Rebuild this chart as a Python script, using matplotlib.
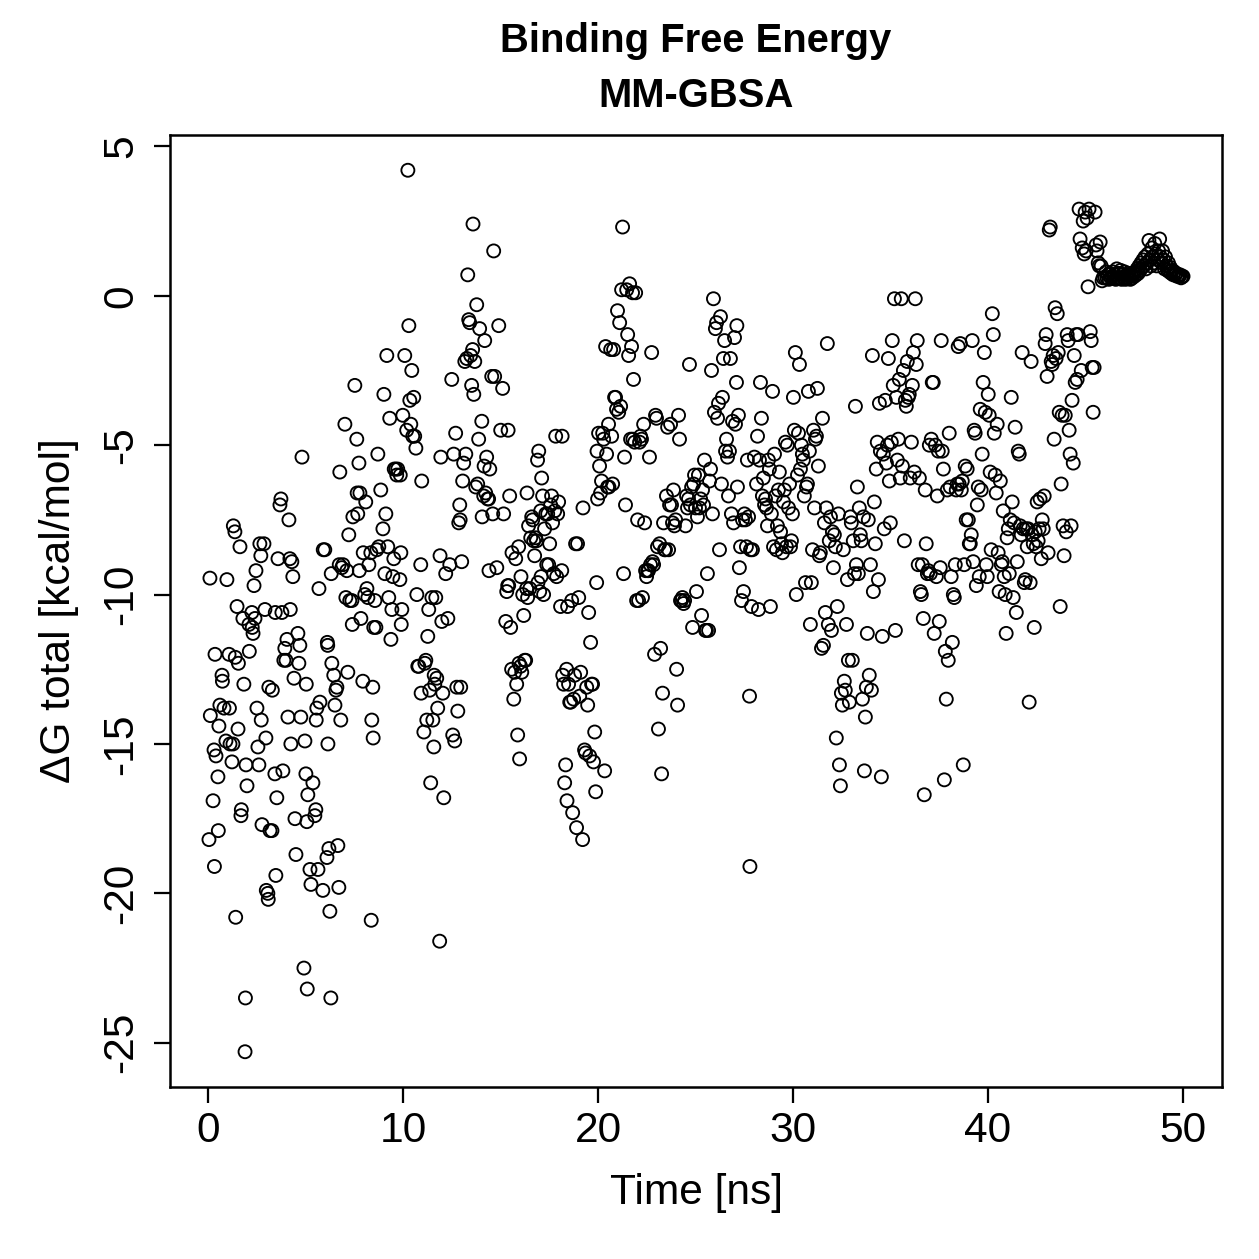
import matplotlib
matplotlib.use("Agg")
import matplotlib.pyplot as plt

plt.rcParams['font.family'] = ['Liberation Sans', 'DejaVu Sans']
plt.rcParams['axes.unicode_minus'] = False

# MM-GBSA binding free energy per frame
time_00_10 = [
    0.10, 0.12, 0.05, 0.26, 0.31, 0.33, 0.36, 0.41, 0.51, 0.53,
    0.61, 0.56, 0.72, 0.74, 0.82, 0.92, 0.97, 1.08, 1.10, 1.13,
    1.23, 1.28, 1.30, 1.38, 1.40, 1.42, 1.49, 1.54, 1.56, 1.64,
    1.69, 1.71, 1.79, 1.84, 1.90, 1.92, 1.95, 2.00, 2.10, 2.12,
    2.25, 2.27, 2.31, 2.36, 2.41, 2.46, 2.51, 2.56, 2.61, 2.66,
    2.71, 2.73, 2.77, 2.87, 2.92, 2.97, 2.99, 3.07, 3.09, 3.12,
    3.18, 3.28, 3.30, 3.43, 3.45, 3.53, 3.48, 3.59, 3.69, 3.74,
    3.79, 3.84, 3.89, 3.94, 4.00, 4.05, 4.10, 4.15, 4.20, 4.22,
    4.25, 4.30, 4.35, 4.41, 4.46, 4.51, 4.61, 4.66, 4.71, 4.76,
    4.82, 4.92, 4.97, 5.02, 5.04, 5.07, 5.09, 5.12, 5.23, 5.28,
    5.38, 5.48, 5.53, 5.55, 5.58, 5.64, 5.69, 5.74, 5.89, 5.91,
    5.99, 6.10, 6.12, 6.14, 6.15, 6.20, 6.25, 6.30, 6.32, 6.35,
    6.45, 6.51, 6.56, 6.61, 6.66, 6.71, 6.73, 6.76, 6.81, 6.86,
    6.92, 7.02, 7.07, 7.12, 7.17, 7.22, 7.27, 7.38, 7.40, 7.43,
    7.53, 7.63, 7.65, 7.68, 7.74, 7.76, 7.79, 7.84, 7.94, 7.96,
    8.04, 8.09, 8.15, 8.20, 8.25, 8.35, 8.37, 8.40, 8.45, 8.47,
    8.50, 8.56, 8.61, 8.66, 8.71, 8.76, 8.86, 8.97, 9.02, 9.07,
    9.12, 9.17, 9.22, 9.27, 9.32, 9.38, 9.43, 9.48, 9.53, 9.55,
    9.63, 9.68, 9.73, 9.84, 9.86, 9.89, 9.91, 9.94, 9.99,
]
dg_00_10 = [
    -9.45, -14.05, -18.2, -16.9, -15.2, -19.1, -12.0, -15.4, -16.1, -17.9,
    -13.7, -14.4, -12.7, -12.9, -13.8, -14.9, -9.5, -12.0, -13.8, -15.0,
    -15.6, -15.0, -7.7, -7.9, -12.1, -20.8, -10.4, -14.5, -12.3, -8.4,
    -17.4, -17.2, -10.8, -13.0, -25.3, -23.5, -15.7, -16.4, -11.0, -11.9,
    -10.6, -11.1, -11.3, -9.7, -10.8, -9.2, -13.8, -15.1, -15.7, -8.3,
    -8.7, -14.2, -17.7, -8.3, -10.5, -14.8, -19.9, -20.0, -20.2, -13.1,
    -17.9, -17.9, -13.2, -16.0, -10.6, -16.8, -19.4, -8.8, -7.0, -6.8,
    -10.6, -15.9, -12.2, -11.8, -12.2, -11.5, -14.1, -7.5, -8.8, -10.5,
    -15.0, -8.9, -9.4, -12.8, -17.5, -18.7, -11.3, -12.3, -11.7, -14.1,
    -5.4, -22.5, -14.9, -16.0, -13.0, -17.6, -23.2, -16.7, -19.2, -19.7,
    -16.3, -17.4, -17.2, -14.2, -13.8, -19.2, -9.8, -13.6, -19.9, -8.5,
    -8.5, -18.8, -11.6, -11.7, -15.0, -18.5, -20.6, -23.5, -9.3, -12.3,
    -12.7, -13.7, -13.2, -13.1, -18.4, -19.8, -9.0, -5.9, -14.2, -9.1,
    -9.0, -4.3, -10.1, -9.2, -12.6, -8.0, -10.2, -10.2, -11.0, -7.4,
    -3.0, -4.8, -6.6, -7.3, -5.6, -9.2, -6.6, -10.8, -12.9, -8.6,
    -10.0, -6.9, -9.8, -10.1, -9.0, -8.6, -20.9, -14.2, -13.1, -14.8,
    -11.1, -10.2, -11.1, -8.5, -5.3, -8.4, -6.5, -7.8, -3.3, -9.3,
    -7.3, -2.0, -8.4, -10.1, -4.1, -11.5, -10.5, -9.4, -8.8, -5.8,
    -5.8, -6.0, -5.8, -9.5, -6.0, -8.6, -11.0, -10.5, -4.0,
]

time_10_20 = [
    10.09, 10.19, 10.25, 10.30, 10.35, 10.40, 10.45, 10.50, 10.55, 10.60,
    10.66, 10.71, 10.76, 10.81, 10.91, 10.93, 10.96, 11.07, 11.12, 11.17,
    11.22, 11.27, 11.32, 11.37, 11.42, 11.48, 11.53, 11.58, 11.60, 11.63,
    11.68, 11.73, 11.78, 11.88, 11.90, 11.94, 11.99, 12.04, 12.09, 12.19,
    12.30, 12.40, 12.50, 12.55, 12.60, 12.65, 12.70, 12.76, 12.81, 12.86,
    12.91, 12.93, 12.96, 13.01, 13.06, 13.11, 13.17, 13.22, 13.27, 13.32,
    13.37, 13.42, 13.47, 13.52, 13.57, 13.59, 13.63, 13.68, 13.73, 13.78,
    13.83, 13.88, 13.93, 14.04, 14.06, 14.14, 14.16, 14.19, 14.24, 14.29,
    14.34, 14.39, 14.41, 14.45, 14.55, 14.60, 14.65, 14.70, 14.81, 14.91,
    15.01, 15.11, 15.16, 15.27, 15.32, 15.37, 15.39, 15.42, 15.47, 15.52,
    15.57, 15.59, 15.68, 15.73, 15.78, 15.83, 15.88, 15.93, 15.95, 15.98,
    16.03, 16.05, 16.09, 16.14, 16.19, 16.24, 16.29, 16.34, 16.36, 16.39,
    16.44, 16.50, 16.55, 16.60, 16.65, 16.70, 16.75, 16.80, 16.85, 16.90,
    16.92, 16.96, 17.01, 17.06, 17.08, 17.11, 17.16, 17.21, 17.26, 17.32,
    17.37, 17.42, 17.47, 17.52, 17.57, 17.62, 17.67, 17.73, 17.78, 17.83,
    17.88, 17.93, 17.98, 18.08, 18.14, 18.16, 18.19, 18.24, 18.29, 18.34,
    18.39, 18.41, 18.44, 18.49, 18.55, 18.60, 18.65, 18.70, 18.75, 18.80,
    18.85, 18.90, 18.95, 19.01, 19.06, 19.11, 19.21, 19.23, 19.31, 19.36,
    19.42, 19.47, 19.52, 19.57, 19.62, 19.67, 19.72, 19.77, 19.83, 19.88,
    19.93, 19.95, 19.98,
]
dg_10_20 = [
    -2.0, -4.5, 4.2, -1.0, -3.5, -4.3, -2.5, -4.7, -3.4, -4.7,
    -5.1, -10.0, -12.4, -12.4, -9.0, -13.3, -6.2, -14.6, -12.3, -12.2,
    -14.2, -11.4, -10.5, -13.2, -16.3, -10.1, -14.2, -15.1, -12.7, -13.0,
    -10.1, -12.8, -13.8, -21.6, -8.7, -5.4, -10.9, -13.3, -16.8, -9.3,
    -10.8, -9.0, -2.8, -14.7, -5.3, -14.9, -4.6, -13.1, -13.9, -7.6,
    -7.0, -7.5, -13.1, -8.9, -6.2, -5.6, -2.2, -5.3, -2.1, 0.7,
    -0.8, -0.9, -2.0, -3.0, -1.8, 2.4, -3.3, -2.2, -6.4, -0.3,
    -6.3, -4.8, -1.1, -4.2, -7.4, -6.7, -5.7, -1.5, -6.6, -5.4,
    -6.8, -6.8, -9.2, -5.8, -2.7, -7.3, 1.5, -2.7, -9.1, -1.0,
    -4.5, -3.1, -7.3, -10.9, -9.9, -9.7, -4.5, -9.7, -6.7, -11.1,
    -12.5, -8.6, -13.5, -12.6, -8.8, -13.0, -14.7, -8.4, -12.3, -15.5,
    -12.4, -9.4, -12.6, -10.0, -10.7, -12.2, -12.2, -9.8, -6.6, -10.1,
    -7.7, -9.8, -8.1, -7.4, -7.5, -8.2, -8.7, -8.1, -8.2, -5.5,
    -9.6, -5.2, -9.9, -7.2, -9.4, -6.1, -6.7, -10.0, -7.8, -7.3,
    -9.0, -7.3, -9.0, -8.3, -7.0, -6.7, -7.6, -9.3, -7.2, -4.7,
    -9.4, -7.3, -6.9, -10.4, -9.2, -4.7, -12.7, -13.0, -16.3, -15.7,
    -12.5, -16.9, -10.4, -13.0, -13.6, -13.6, -10.2, -17.3, -13.5, -12.7,
    -8.3, -17.8, -8.3, -10.1, -13.4, -12.6, -18.2, -7.1, -15.2, -15.3,
    -13.1, -13.7, -10.6, -15.4, -11.6, -13.0, -13.0, -15.6, -14.6, -16.6,
    -9.6, -5.2, -6.8,
]

time_20_30 = [
    20.03, 20.08, 20.13, 20.18, 20.24, 20.29, 20.34, 20.39, 20.44, 20.49,
    20.54, 20.56, 20.65, 20.70, 20.75, 20.80, 20.85, 20.90, 20.95, 21.00,
    21.06, 21.11, 21.16, 21.21, 21.26, 21.31, 21.36, 21.41, 21.47, 21.52,
    21.57, 21.62, 21.67, 21.72, 21.77, 21.79, 21.82, 21.88, 21.93, 21.98,
    22.03, 22.08, 22.13, 22.18, 22.23, 22.28, 22.34, 22.39, 22.44, 22.49,
    22.54, 22.59, 22.64, 22.69, 22.75, 22.80, 22.85, 22.90, 22.95, 23.00,
    23.05, 23.10, 23.16, 23.21, 23.26, 23.31, 23.36, 23.41, 23.46, 23.51,
    23.57, 23.62, 23.67, 23.72, 23.77, 23.82, 23.87, 23.92, 23.98, 24.03,
    24.08, 24.13, 24.18, 24.23, 24.28, 24.33, 24.39, 24.44, 24.49, 24.54,
    24.59, 24.64, 24.69, 24.74, 24.80, 24.85, 24.90, 24.95, 25.00, 25.05,
    25.10, 25.15, 25.20, 25.26, 25.31, 25.36, 25.41, 25.46, 25.51, 25.56,
    25.61, 25.67, 25.72, 25.77, 25.82, 25.87, 25.92, 25.97, 26.02, 26.08,
    26.13, 26.18, 26.23, 26.28, 26.33, 26.38, 26.43, 26.49, 26.54, 26.59,
    26.64, 26.69, 26.74, 26.79, 26.84, 26.90, 26.95, 27.00, 27.05, 27.10,
    27.12, 27.15, 27.20, 27.25, 27.31, 27.36, 27.41, 27.46, 27.51, 27.56,
    27.61, 27.66, 27.72, 27.77, 27.79, 27.82, 27.87, 27.92, 28.02, 28.13,
    28.18, 28.23, 28.28, 28.33, 28.38, 28.43, 28.48, 28.54, 28.59, 28.64,
    28.69, 28.74, 28.79, 28.84, 28.89, 28.95, 29.00, 29.05, 29.10, 29.15,
    29.20, 29.25, 29.30, 29.36, 29.41, 29.46, 29.51, 29.56, 29.61, 29.66,
    29.71, 29.77, 29.82, 29.87, 29.92, 29.97,
]
dg_20_30 = [
    -4.6, -5.7, -6.6, -6.2, -4.6, -4.8, -15.9, -1.7, -5.3, -6.4,
    -4.3, -6.4, -1.8, -4.7, -6.3, -1.8, -3.4, -3.4, -3.8, -0.5,
    -3.9, -0.9, -3.7, 0.2, 2.3, -9.3, -5.4, -7.0, 0.2, -1.3,
    -2.0, 0.4, -4.8, -1.7, 0.1, -4.8, -2.8, -4.9, 0.1, -10.2,
    -7.5, -10.2, -4.9, -4.7, -4.8, -10.1, -4.3, -7.6, -9.2, -9.4,
    -9.2, -9.2, -5.4, -9.0, -1.9, -8.9, -9.0, -12.0, -4.0, -4.1,
    -8.4, -14.5, -8.3, -11.8, -16.0, -13.3, -7.6, -8.5, -8.5, -6.7,
    -4.4, -8.5, -7.0, -4.3, -7.0, -7.6, -6.5, -7.7, -7.5, -12.5,
    -13.7, -4.0, -4.8, -10.2, -10.2, -10.1, -10.3, -10.2, -7.7, -6.7,
    -7.1, -6.8, -2.3, -7.0, -6.4, -11.1, -6.3, -6.0, -7.1, -9.9,
    -7.4, -6.0, -7.1, -6.8, -10.7, -6.5, -7.0, -5.5, -11.2, -11.2,
    -9.3, -11.2, -6.2, -5.8, -2.5, -7.3, -0.1, -3.9, -1.1, -0.9,
    -4.1, -3.6, -8.5, -0.7, -6.3, -3.4, -2.1, -1.5, -5.2, -4.8,
    -5.4, -6.7, -5.2, -2.1, -7.3, -4.2, -7.6, -1.4, -4.3, -2.9,
    -1.0, -6.4, -4.0, -9.1, -8.4, -10.2, -7.5, -9.9, -7.3, -7.5,
    -8.4, -5.5, -7.4, -13.4, -19.1, -8.5, -10.4, -8.5, -5.4, -6.3,
    -4.7, -10.5, -5.5, -2.9, -4.1, -6.7, -6.1, -7.0, -6.8, -7.1,
    -7.7, -5.5, -5.8, -10.4, -7.3, -3.2, -8.4, -5.3, -6.7, -8.5,
    -7.7, -6.5, -5.9, -7.9, -8.3, -8.6, -6.9, -6.5, -4.9, -8.4,
    -5.0, -7.1, -6.3, -8.4, -8.2, -7.3,
]

time_30_40 = [
    30.02, 30.07, 30.12, 30.17, 30.23, 30.28, 30.33, 30.38, 30.43, 30.48,
    30.53, 30.58, 30.64, 30.69, 30.74, 30.79, 30.84, 30.89, 30.94, 31.00,
    31.05, 31.10, 31.15, 31.20, 31.25, 31.30, 31.35, 31.40, 31.46, 31.51,
    31.56, 31.61, 31.66, 31.71, 31.76, 31.81, 31.86, 31.92, 31.97, 32.02,
    32.07, 32.12, 32.17, 32.22, 32.27, 32.33, 32.38, 32.43, 32.48, 32.53,
    32.58, 32.63, 32.68, 32.74, 32.79, 32.84, 32.89, 32.94, 32.99, 33.04,
    33.09, 33.15, 33.20, 33.25, 33.30, 33.35, 33.40, 33.45, 33.50, 33.56,
    33.61, 33.66, 33.71, 33.76, 33.81, 33.86, 33.91, 33.97, 34.02, 34.07,
    34.12, 34.17, 34.22, 34.27, 34.32, 34.38, 34.43, 34.48, 34.53, 34.58,
    34.63, 34.68, 34.73, 34.79, 34.84, 34.89, 34.94, 34.99, 35.04, 35.09,
    35.14, 35.20, 35.25, 35.30, 35.35, 35.40, 35.45, 35.50, 35.55, 35.61,
    35.66, 35.71, 35.76, 35.81, 35.86, 35.91, 35.96, 36.01, 36.07, 36.12,
    36.17, 36.22, 36.27, 36.32, 36.37, 36.42, 36.48, 36.53, 36.58, 36.63,
    36.68, 36.73, 36.78, 36.83, 36.89, 36.94, 36.99, 37.04, 37.09, 37.14,
    37.19, 37.24, 37.30, 37.35, 37.40, 37.45, 37.50, 37.55, 37.60, 37.65,
    37.71, 37.76, 37.81, 37.86, 37.91, 37.96, 38.01, 38.06, 38.11, 38.17,
    38.22, 38.27, 38.32, 38.37, 38.42, 38.47, 38.52, 38.58, 38.63, 38.68,
    38.73, 38.78, 38.83, 38.88, 38.93, 38.99, 39.04, 39.09, 39.14, 39.19,
    39.24, 39.29, 39.34, 39.40, 39.45, 39.50, 39.55, 39.60, 39.65, 39.70,
    39.75, 39.81, 39.86, 39.91, 39.96,
]
dg_30_40 = [
    -3.4, -4.5, -1.9, -10.0, -6.0, -4.6, -2.3, -5.8, -5.0, -5.3,
    -5.5, -6.7, -9.6, -6.4, -6.3, -3.2, -5.2, -11.0, -9.6, -8.5,
    -4.5, -7.1, -4.8, -4.7, -3.1, -5.7, -8.7, -8.6, -11.8, -4.1,
    -11.7, -7.6, -10.6, -7.1, -1.6, -11.0, -8.2, -7.4, -11.2, -7.9,
    -9.1, -8.0, -8.4, -14.8, -10.4, -7.3, -15.7, -16.4, -13.3, -13.7,
    -8.5, -12.9, -13.2, -11.0, -9.5, -12.2, -13.6, -7.4, -7.6, -12.2,
    -8.2, -9.3, -3.7, -9.0, -6.4, -9.3, -7.1, -8.0, -8.2, -13.5,
    -7.4, -15.9, -14.1, -13.1, -11.3, -7.5, -12.7, -9.0, -13.2, -2.0,
    -9.9, -6.9, -8.3, -5.8, -4.9, -9.5, -3.6, -5.2, -16.1, -11.4,
    -5.3, -7.8, -3.5, -5.6, -5.0, -2.1, -6.2, -7.6, -4.9, -1.5,
    -3.0, -0.1, -11.2, -3.4, -5.5, -4.8, -2.8, -6.1, -0.1, -5.7,
    -2.5, -8.2, -3.5, -3.7, -2.2, -3.4, -3.3, -6.1, -4.9, -3.0,
    -1.9, -5.9, -0.1, -2.3, -1.5, -9.0, -6.1, -9.9, -10.0, -9.0,
    -10.8, -16.7, -6.5, -8.3, -9.3, -9.2, -5.0, -9.3, -4.8, -2.9,
    -2.9, -11.3, -5.0, -9.4, -6.7, -5.2, -10.9, -9.1, -1.5, -5.2,
    -5.8, -16.2, -11.9, -13.5, -6.5, -12.2, -4.6, -6.4, -9.4, -11.6,
    -10.0, -10.1, -9.0, -6.5, -6.3, -1.7, -6.3, -1.6, -6.5, -6.2,
    -15.7, -9.0, -5.7, -7.5, -5.8, -7.5, -8.3, -8.3, -8.0, -1.5,
    -8.9, -4.5, -4.6, -9.7, -7.0, -6.4, -9.4, -3.8, -6.5, -5.3,
    -2.9, -1.9, -3.9, -9.0, -9.4,
]

time_40_46 = [
    40.01, 40.06, 40.11, 40.16, 40.22, 40.27, 40.32, 40.37, 40.42, 40.47,
    40.52, 40.57, 40.63, 40.68, 40.73, 40.78, 40.83, 40.88, 40.93, 40.98,
    41.04, 41.09, 41.14, 41.19, 41.24, 41.29, 41.34, 41.39, 41.45, 41.50,
    41.55, 41.60, 41.65, 41.70, 41.75, 41.80, 41.86, 41.91, 41.96, 42.01,
    42.06, 42.11, 42.16, 42.21, 42.26, 42.32, 42.37, 42.42, 42.47, 42.52,
    42.57, 42.62, 42.67, 42.73, 42.78, 42.83, 42.88, 42.93, 42.98, 43.03,
    43.08, 43.14, 43.19, 43.24, 43.29, 43.34, 43.39, 43.44, 43.49, 43.55,
    43.60, 43.65, 43.70, 43.75, 43.80, 43.85, 43.90, 43.96, 44.01, 44.06,
    44.11, 44.16, 44.21, 44.26, 44.31, 44.37, 44.42, 44.47, 44.52, 44.57,
    44.62, 44.67, 44.72, 44.78, 44.83, 44.88, 44.93, 44.98, 45.03, 45.08,
    45.13, 45.18, 45.24, 45.29, 45.34, 45.39, 45.44, 45.49, 45.54, 45.59,
    45.65, 45.70, 45.75, 45.80, 45.85, 45.90,
]
dg_40_46 = [
    -3.3, -4.0, -5.9, -8.5, -0.6, -1.3, -4.6, -6.0, -6.6, -4.3,
    -8.6, -9.9, -6.2, -9.0, -8.9, -7.2, -9.4, -10.0, -11.3, -8.1,
    -7.8, -9.3, -7.5, -3.4, -6.9, -10.1, -7.6, -4.4, -10.6, -8.9,
    -5.2, -5.3, -7.7, -8.0, -1.9, -7.8, -9.6, -9.5, -7.8, -8.4,
    -7.8, -13.6, -9.6, -2.2, -8.0, -8.3, -11.1, -7.9, -8.4, -6.9,
    -8.2, -7.8, -6.8, -8.8, -7.5, -7.8, -6.7, -1.6, -1.3, -2.7,
    -8.6, 2.2, 2.3, -2.2, -2.3, -2.0, -4.8, -0.4, -2.1, -0.6,
    -1.9, -3.9, -10.4, -6.3, -4.0, -7.7, -8.7, -4.0, -7.9, -1.3,
    -1.5, -4.5, -5.3, -7.7, -3.5, -5.6, -2.0, -2.9, -1.3, -2.8,
    -1.3, 2.9, 1.9, -2.5, 1.6, 2.5, 1.4, 2.8, 1.5, 2.6,
    0.3, 2.9, -1.2, -1.5, -2.4, -3.9, -2.4, 2.8, 1.7, 1.5,
    1.1, 1.0, 1.8, 1.0, 0.5, 0.6,
]

time_46_50 = [
    46.00, 46.05, 46.10, 46.15, 46.20, 46.25, 46.30, 46.35, 46.40, 46.45,
    46.50, 46.55, 46.60, 46.65, 46.70, 46.75, 46.80, 46.85, 46.90, 46.95,
    47.00, 47.05, 47.10, 47.15, 47.20, 47.25, 47.30, 47.35, 47.40, 47.45,
    47.50, 47.55, 47.60, 47.65, 47.70, 47.75, 47.80, 47.85, 47.90, 47.95,
    48.00, 48.05, 48.10, 48.15, 48.20, 48.25, 48.30, 48.35, 48.40, 48.45,
    48.50, 48.55, 48.60, 48.65, 48.70, 48.75, 48.80, 48.85, 48.90, 48.95,
    49.00, 49.05, 49.10, 49.15, 49.20, 49.25, 49.30, 49.35, 49.40, 49.45,
    49.50, 49.55, 49.60, 49.65, 49.70, 49.75, 49.80, 49.85, 49.90, 49.95,
    50.00,
]
dg_46_50 = [
    0.6, 0.8, 0.6, 0.7, 0.55, 0.75, 0.6, 0.65, 0.8, 0.6,
    0.7, 0.55, 0.9, 0.6, 0.75, 0.6, 0.85, 0.55, 0.7, 0.6,
    0.8, 0.55, 0.7, 0.6, 0.75, 0.65, 0.55, 0.7, 0.6, 0.75,
    0.65, 0.8, 0.7, 0.9, 0.75, 1.0, 0.85, 1.1, 0.95, 1.2,
    1.0, 1.3, 0.9, 1.1, 1.4, 1.85, 1.2, 1.0, 1.6, 1.3,
    1.1, 1.75, 1.4, 1.0, 1.2, 1.5, 1.9, 1.3, 1.1, 1.5,
    1.2, 0.9, 1.3, 1.0, 0.85, 1.1, 0.8, 0.95, 0.75, 0.85,
    0.7, 0.8, 0.7, 0.75, 0.65, 0.7, 0.65, 0.7, 0.6, 0.65,
    0.65,
]

time_ns = time_00_10 + time_10_20 + time_20_30 + time_30_40 + time_40_46 + time_46_50
dg_total = dg_00_10 + dg_10_20 + dg_20_30 + dg_30_40 + dg_40_46 + dg_46_50

W = 1259
fig = plt.figure(figsize=(W / 180, W / 180), dpi=180)
ax = fig.add_axes([170 / W, 1 - 1087 / W, (1222 - 170) / W, (1087 - 135) / W])

ax.scatter(time_ns, dg_total, s=27, facecolors='none', edgecolors='black', linewidths=0.75)

# R-style 4% padding around the data range
xpad = 0.04 * (max(time_ns) - min(time_ns))
ypad = 0.04 * (max(dg_total) - min(dg_total))
ax.set_xlim(min(time_ns) - xpad, max(time_ns) + xpad)
ax.set_ylim(min(dg_total) - ypad, max(dg_total) + ypad)

ax.set_xticks([0, 10, 20, 30, 40, 50])
ax.set_yticks([-25, -20, -15, -10, -5, 0, 5])
ax.tick_params(direction='out', length=6.4, width=0.9, labelsize=17)
ax.tick_params(axis='x', pad=3)
ax.tick_params(axis='y', labelrotation=90, pad=5)
for lab in ax.get_yticklabels():
    lab.set_va('center')

for sp in ax.spines.values():
    sp.set_linewidth(1.0)

ax.set_xlabel('Time [ns]', fontsize=17, labelpad=9)
ax.set_ylabel('ΔG total [kcal/mol]', fontsize=17, labelpad=9)

fig.text(696 / W, 1 - 52 / W, 'Binding Free Energy', ha='center', va='baseline',
         fontsize=16, fontweight='bold')
fig.text(696 / W, 1 - 107 / W, 'MM-GBSA', ha='center', va='baseline',
         fontsize=16, fontweight='bold')

fig.savefig('out.png', dpi=180)
